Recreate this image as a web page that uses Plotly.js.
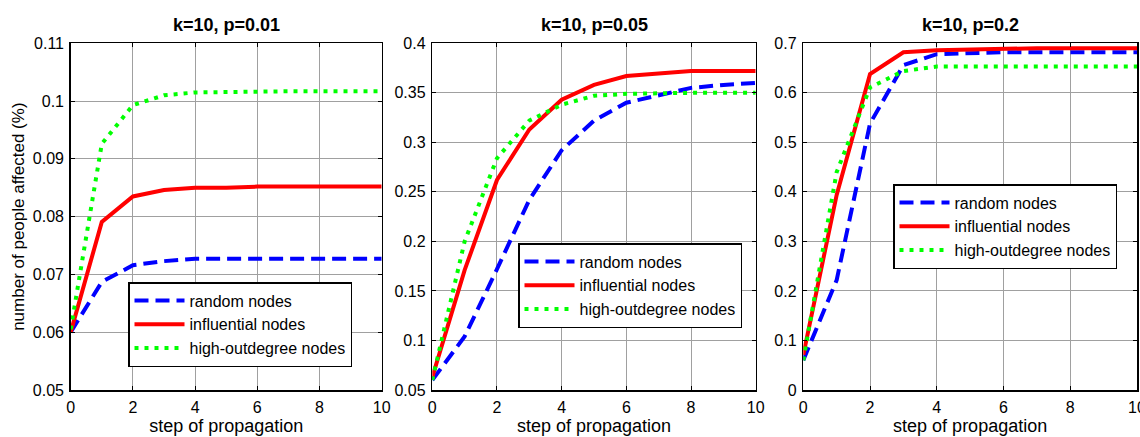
<!DOCTYPE html>
<html>
<head>
<meta charset="utf-8">
<script src="https://cdn.plot.ly/plotly-3.0.1.min.js"></script>
<style>html,body{margin:0;padding:0;background:#fff;}#chart{width:1140px;height:437px;}</style>
</head>
<body>
<div id="chart"></div>
<script>
const steps = [0,1,2,3,4,5,6,7,8,9,10];
const seriesNames = ["random nodes","influential nodes","high-outdegree nodes"];
const panelTitles = ["k=10, p=0.01","k=10, p=0.05","k=10, p=0.2"];

// p = 0.01
const random01 = [0.0600,0.0687,0.0716,0.0723,0.0727,0.0727,0.0727,0.0727,0.0727,0.0727,0.0727];
const influential01 = [0.0600,0.0791,0.0835,0.0846,0.0850,0.0850,0.0852,0.0852,0.0852,0.0852,0.0852];
const highout01 = [0.0605,0.0926,0.0993,0.1010,0.1015,0.1016,0.1017,0.1017,0.1017,0.1017,0.1017];

// p = 0.05
const random05 = [0.060,0.104,0.172,0.242,0.292,0.322,0.340,0.348,0.355,0.358,0.360];
const influential05 = [0.063,0.171,0.262,0.313,0.343,0.358,0.367,0.369,0.372,0.372,0.372];
const highout05 = [0.060,0.200,0.284,0.322,0.338,0.347,0.349,0.350,0.350,0.350,0.350];

// p = 0.2
const random2 = [0.060,0.222,0.538,0.656,0.678,0.681,0.682,0.682,0.682,0.682,0.682];
const influential2 = [0.071,0.394,0.638,0.682,0.686,0.688,0.690,0.690,0.690,0.690,0.690];
const highout2 = [0.060,0.440,0.611,0.644,0.653,0.653,0.653,0.653,0.653,0.653,0.653];

const yRanges = [[0.05,0.11],[0.05,0.4],[0,0.7]];
const yTicks = [
  [0.05,0.06,0.07,0.08,0.09,0.1,0.11],
  [0.05,0.1,0.15,0.2,0.25,0.3,0.35,0.4],
  [0,0.1,0.2,0.3,0.4,0.5,0.6,0.7]
];
const yTickText = [
  ["0.05","0.06","0.07","0.08","0.09","0.1","0.11"],
  ["0.05","0.1","0.15","0.2","0.25","0.3","0.35","0.4"],
  ["0","0.1","0.2","0.3","0.4","0.5","0.6","0.7"]
];
const xTicks = [0,2,4,6,8,10];

const data = [
  [random01, influential01, highout01],
  [random05, influential05, highout05],
  [random2, influential2, highout2]
];

const W = 1140, H = 437;
const xPix = [[70.7,381.7],[432.3,755.7],[803.3,1137]];
const yPixTop = 43.3, yPixBot = 390;
const legendPos = [[128,282],[518,243],[893,184]];

const styles = [
  {color:"#0000ff", width:4, dash:"14px,7px"},
  {color:"#ff0000", width:4, dash:"solid"},
  {color:"#00ff00", width:4, dash:"4px,6px"}
];

const traces = [];
const layout = {
  width: W, height: H,
  margin: {l:0,r:0,t:0,b:0},
  paper_bgcolor: "#ffffff",
  plot_bgcolor: "#ffffff",
  font: {family: "Liberation Sans, Arial, sans-serif", size: 16, color: "#000"},
  showlegend: true,
  annotations: []
};

for (let p = 0; p < 3; p++) {
  const xa = p === 0 ? "x" : "x" + (p+1);
  const ya = p === 0 ? "y" : "y" + (p+1);
  const lg = p === 0 ? "legend" : "legend" + (p+1);
  for (let s = 0; s < 3; s++) {
    traces.push({
      x: steps, y: data[p][s], type: "scatter", mode: "lines",
      name: seriesNames[s], xaxis: xa, yaxis: ya, legend: lg,
      line: {color: styles[s].color, width: styles[s].width, dash: styles[s].dash},
      hoverinfo: "skip"
    });
  }
  const xd = [xPix[p][0]/W, xPix[p][1]/W];
  const yd = [(H - yPixBot)/H, (H - yPixTop)/H];
  const xkey = p === 0 ? "xaxis" : "xaxis" + (p+1);
  const ykey = p === 0 ? "yaxis" : "yaxis" + (p+1);
  layout[xkey] = {
    domain: xd, anchor: ya, range: [0,10],
    tickmode: "array", tickvals: xTicks, ticktext: xTicks.map(String),
    showgrid: true, gridcolor: "#a0a0a0", gridwidth: 1,
    zeroline: false, showline: true, linecolor: "#000", linewidth: 1.5, mirror: "ticks",
    ticks: "inside", ticklen: 4, tickcolor: "#000",
    tickfont: {size: 16}, ticklabelstandoff: 2, ticklabeloverflow: "allow",
    title: {text: "step of propagation", font: {size: 18}, standoff: 3}
  };
  layout[ykey] = {
    domain: yd, anchor: xa, range: yRanges[p],
    tickmode: "array", tickvals: yTicks[p], ticktext: yTickText[p],
    showgrid: true, gridcolor: "#a0a0a0", gridwidth: 1,
    zeroline: false, showline: true, linecolor: "#000", linewidth: 1.5, mirror: "ticks",
    ticks: "inside", ticklen: 4, tickcolor: "#000",
    tickfont: {size: 16}, ticklabelstandoff: 2
  };
  if (p === 0) {
    layout[ykey].title = {text: "number of people affected (%)", font: {size: 17}, standoff: 4};
  }
  layout[lg] = {
    x: legendPos[p][0]/W, y: (H - legendPos[p][1])/H,
    xanchor: "left", yanchor: "top",
    bgcolor: "#ffffff", bordercolor: "#000", borderwidth: 1.5,
    font: {size: 16}, itemwidth: 50, tracegroupgap: 0,
    itemclick: false, itemdoubleclick: false
  };
  layout.annotations.push({
    text: "<b>" + panelTitles[p] + "</b>",
    xref: "paper", yref: "paper",
    x: (xd[0]+xd[1])/2, y: (H - 25)/H,
    xanchor: "center", yanchor: "middle",
    showarrow: false, font: {size: 18}
  });
}

Plotly.newPlot("chart", traces, layout, {displayModeBar: false, staticPlot: true});
</script>
</body>
</html>
